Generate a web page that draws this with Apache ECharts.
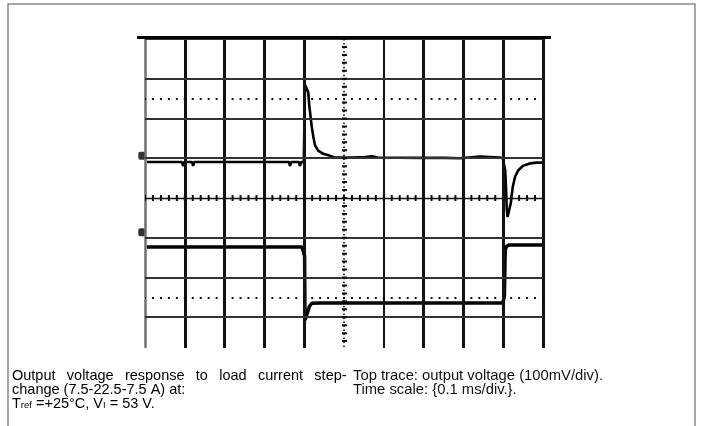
<!DOCTYPE html>
<html>
<head>
<meta charset="utf-8">
<title>Load step response</title>
<script src="https://cdn.jsdelivr.net/npm/echarts@6/dist/echarts.min.js"></script>
<style>
  html, body { margin: 0; padding: 0; background: #fff; }
  #chart { width: 702px; height: 426px; }
</style>
</head>
<body>
<div id="chart"></div>
<script>
// all values in scope divisions (x: 0..10, y: centre line = 0)
var gridDivX = [0, 1, 2, 3, 4, 6, 7, 8, 9, 10];
var gridDivY = [4, 3, 2, 1, -1, -2, -3];
var markerDivY = [2.5, -2.5];

// top trace: output voltage
var voutTime = [0.05, 0.93, 0.955, 0.99, 1.18, 1.21, 1.24, 3.62, 3.64, 3.68, 3.87, 3.89, 3.93, 3.99,
  4.02, 4.05, 4.10, 4.13, 4.16, 4.19, 4.23, 4.27, 4.35, 4.48, 4.65, 4.77,
  5.20, 5.53, 5.70, 5.85, 6.91, 7.54, 7.91, 8.42, 8.92, 8.99,
  9.02, 9.05, 9.07, 9.09, 9.11, 9.15, 9.19, 9.24, 9.30, 9.38, 9.50, 9.67, 9.84, 10.0];
var voutLevel = [0.906, 0.906, 0.805, 0.906, 0.906, 0.805, 0.906, 0.906, 0.805, 0.906, 0.906, 0.805, 0.906, 0.906,
  2.84, 2.82, 2.67, 2.30, 2.05, 1.79, 1.54, 1.33, 1.19, 1.11, 1.06, 1.02,
  1.02, 1.03, 1.05, 1.02, 1.01, 1.01, 1.00, 1.04, 1.02, 1.00,
  0.98, 0.70, 0.28, -0.30, -0.48, -0.47, -0.13, 0.28, 0.54, 0.70, 0.81, 0.87, 0.89, 0.89];

// bottom trace: load current
var iloadTime = [0.05, 3.94, 3.97, 4.01, 4.02, 4.05, 4.08, 4.13, 4.19, 4.40, 8.99, 9.03, 9.05, 9.08, 9.15, 10.0];
var iloadLevel = [-1.23, -1.23, -1.31, -1.46, -3.07, -3.12, -2.89, -2.73, -2.65, -2.64, -2.64, -2.47, -1.31, -1.22, -1.18, -1.18];

// channel ground markers on the left edge
var refX = -0.08;
var refLevel = [1.06, -0.86];

// caption; first line is justified in the original, so words are given one by one
var captionFirstWords = ['Output', 'voltage', 'response', 'to', 'load', 'current', 'step-'];
var captionLeft = [
  '{n|change (7.5-22.5-7.5 A) at:}',
  '{n|T}{s|ref}{n| =+25°C, V}{s|I}{n| = 53 V.}'
];
var captionRight = [
  'Top trace: output voltage (100mV/div).',
  'Time scale: {0.1 ms/div.}.'
];

var yMin = -3.774, yMax = 4;
var font = '"Liberation Sans", Arial, Helvetica, sans-serif';
var fontSize = 14.5;

function pairs(xs, ys) {
  var out = [];
  for (var i = 0; i < xs.length; i++) out.push([xs[i], ys[i]]);
  return out;
}

function seg(x0, y0, x1, y1, style) {
  return [{ coord: [x0, y0], lineStyle: style }, { coord: [x1, y1] }];
}

// graticule: solid division lines, dotted rows, centre axes with ticks
function buildGraticule() {
  var lines = [];
  var vWidth = { 0: 2.5, 6: 2 };
  gridDivX.forEach(function (x) {
    var w = vWidth[x] !== undefined ? vWidth[x] : 3;
    var c = x === 0 ? '#6f6f6f' : '#111';
    lines.push(seg(x, yMax, x, yMin, { color: c, width: w, type: 'solid' }));
  });
  gridDivY.forEach(function (y) {
    lines.push(seg(0, y, 10, y, { color: '#333', width: 2, type: 'solid' }));
  });
  markerDivY.forEach(function (y) {
    lines.push(seg(0, y, 10, y, { color: '#111', width: 2, type: [2, 5.96], dashOffset: 1 }));
  });
  // centre horizontal
  lines.push(seg(0, 0, 10, 0, { color: '#111', width: 1.3, type: 'solid' }));
  lines.push(seg(0, 0, 10, 0, { color: '#111', width: 6, type: [2, 5.96], dashOffset: 1 }));
  // centre vertical
  lines.push(seg(5, yMax, 5, yMin, { color: '#111', width: 1.6, type: [1.5, 2.48] }));
  lines.push(seg(5, yMax, 5, yMin, { color: '#111', width: 5, type: [2, 5.95], dashOffset: 1 }));
  return lines;
}

function leftCaption(x, y) {
  var first = captionFirstWords.map(function (w, i) {
    return (i < captionFirstWords.length - 1 ? '{j|' : '{n|') + w + '}';
  }).join('');
  return {
    type: 'text',
    left: x,
    top: y,
    silent: true,
    style: {
      text: [first].concat(captionLeft).join('\n'),
      rich: {
        n: { fontFamily: font, fontSize: fontSize, lineHeight: 14, color: '#111' },
        j: { fontFamily: font, fontSize: fontSize, lineHeight: 14, color: '#111', padding: [0, 11.3, 0, 0] },
        s: { fontFamily: font, fontSize: 9.5, lineHeight: 6, color: '#111', verticalAlign: 'bottom' }
      }
    }
  };
}

function rightCaption(x, y) {
  return {
    type: 'text',
    left: x,
    top: y,
    silent: true,
    style: {
      text: captionRight.join('\n'),
      fontFamily: font,
      fontSize: 14.8,
      lineHeight: 14,
      fill: '#111'
    }
  };
}

var chart = echarts.init(document.getElementById('chart'), null, { renderer: 'canvas' });

var option = {
  backgroundColor: '#fff',
  animation: false,
  grid: { left: 145, right: 159, top: 39, bottom: 78 },
  xAxis: {
    type: 'value', min: 0, max: 10,
    axisLine: { show: false }, axisTick: { show: false },
    axisLabel: { show: false }, splitLine: { show: false }
  },
  yAxis: {
    type: 'value', min: yMin, max: yMax,
    axisLine: { show: false }, axisTick: { show: false },
    axisLabel: { show: false }, splitLine: { show: false }
  },
  graphic: [
    { type: 'rect', shape: { x: 8, y: 4, width: 687, height: 460 }, style: { fill: 'none', stroke: '#8a8a8a', lineWidth: 1.5 }, silent: true },
    { type: 'line', shape: { x1: 137, y1: 37.5, x2: 551, y2: 37.5 }, style: { stroke: '#000', lineWidth: 3 }, silent: true, z: 10 },
    leftCaption(12, 368),
    rightCaption(353, 368)
  ],
  series: [
    {
      name: 'graticule',
      type: 'line',
      data: [],
      z: 1,
      silent: true,
      markLine: {
        silent: true,
        symbol: ['none', 'none'],
        label: { show: false },
        animation: false,
        data: buildGraticule()
      }
    },
    {
      name: 'Output voltage',
      type: 'line',
      z: 3,
      showSymbol: false,
      lineStyle: { color: '#000', width: 2.6 },
      data: pairs(voutTime, voutLevel)
    },
    {
      name: 'Load current',
      type: 'line',
      z: 3,
      showSymbol: false,
      lineStyle: { color: '#000', width: 3.5 },
      data: pairs(iloadTime, iloadLevel)
    },
    {
      name: 'ground markers',
      type: 'scatter',
      z: 4,
      clip: false,
      symbol: 'roundRect',
      symbolSize: [7, 8],
      itemStyle: { color: '#000' },
      data: refLevel.map(function (v) { return [refX, v]; })
    }
  ]
};

chart.setOption(option);
</script>
</body>
</html>
